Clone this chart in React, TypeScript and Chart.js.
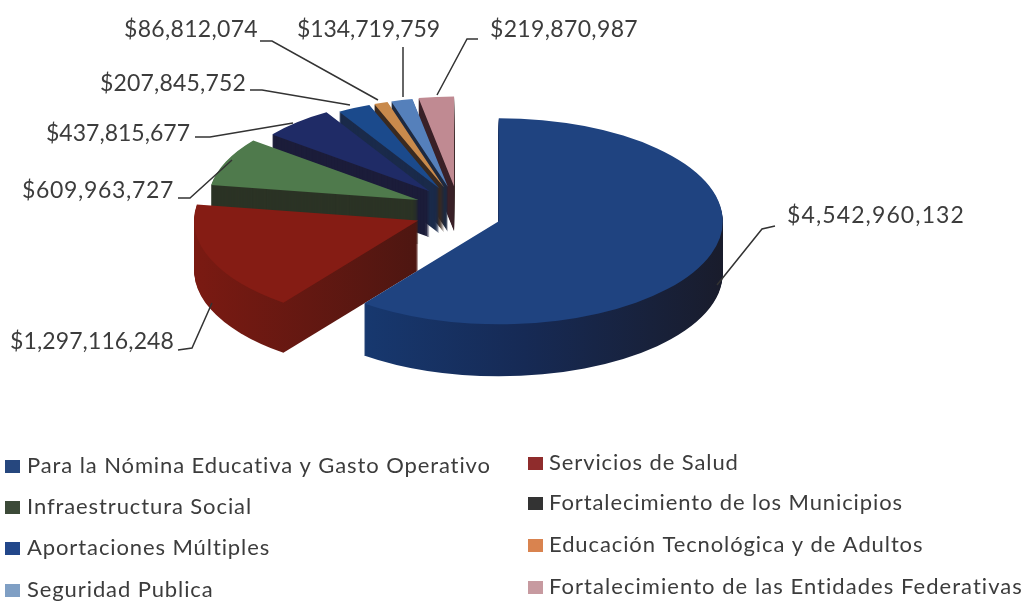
import React, { useEffect, useRef } from "react";
import { Chart, registerables } from "chart.js";

Chart.register(...registerables);

const categories = [
  "Para la Nómina Educativa y Gasto Operativo",
  "Servicios de Salud",
  "Infraestructura Social",
  "Fortalecimiento de los Municipios",
  "Aportaciones Múltiples",
  "Educación Tecnológica y de Adultos",
  "Seguridad Publica",
  "Fortalecimiento de las Entidades Federativas",
];
const values = [4542960132, 1297116248, 609963727, 437815677, 207845752, 86812074, 134719759, 219870987];
const topColors = ["#1f4380", "#851c14", "#4f7a4c", "#1f2b66", "#1b4a8c", "#c98a4c", "#5580bb", "#c08a92"];
const sideColors = ["#17233f", "#5c1712", "#2b3325", "#1c1d3a", "#1a2a4a", "#3a2a20", "#1e2a40", "#3a2028"];
const legendColors = ["#26477e", "#8f2c2c", "#3c4a38", "#333333", "#22478a", "#d9834f", "#7f9fc4", "#c79aa0"];

const SQUASH = 0.46;
const RADIUS = 224;
const EXPLODE = 43;
const FONT = "Lato, sans-serif";
const INK = "#3c3c3c";

// The reference has perspective: far slices look smaller and thinner, near ones sit lower.
const sliceRadius = [224, 224, 210, 200, 194, 194, 194, 195];
const sliceNudgeY = [6, 4, -1, -3, -3, -3, -3, -3];
const sliceDepth = [52, 50, 44, 46, 45, 45, 45, 45];

// Where each value label sits (text x, middle y, align, width on the page) and its leader polyline.
const labelSpots: [number, number, CanvasTextAlign, number][] = [
  [787, 216, "left", 178],
  [174, 342, "right", 164],
  [174, 191, "right", 152],
  [190, 134, "right", 144],
  [246, 84, "right", 146],
  [258, 30, "right", 134],
  [440, 30, "right", 143],
  [490, 30, "left", 148],
];
const leaders: [number, number][][] = [
  [[775, 226], [762, 229], [717, 285]],
  [[178, 350], [192, 348], [212, 303]],
  [[178, 198], [190, 198], [232, 160]],
  [[195, 137], [210, 137], [293, 123]],
  [[250, 90], [262, 90], [350, 105]],
  [[260, 41], [272, 41], [378, 100]],
  [[403, 47], [403, 97]],
  [[478, 39], [467, 39], [437, 95]],
];
const legendRows: [number, number, number, number][] = [
  [5, 27, 466, 0.9],
  [528, 549, 463, 0.9],
  [5, 27, 507, 0.9],
  [528, 549, 503, 0.9],
  [5, 27, 548, 0.9],
  [528, 549, 545, 0.9],
  [5, 27, 590, 0.9],
  [528, 549, 587, 1.05],
];

const pie3d = {
  id: "pie3d",
  afterDatasetsUpdate(chart: any) {
    // Pull every slice outward along its own mid-angle (an exploded pie).
    chart.getDatasetMeta(0).data.forEach((arc: any, i: number) => {
      const mid = (arc.startAngle + arc.endAngle) / 2;
      arc.x += Math.cos(mid) * EXPLODE;
      arc.y += Math.sin(mid) * EXPLODE + sliceNudgeY[i] / SQUASH;
      arc.outerRadius = sliceRadius[i];
    });
  },
  beforeDatasetsDraw(chart: any) {
    const ctx = chart.ctx;
    const arcs = chart.getDatasetMeta(0).data;
    const { left, right, top, bottom } = chart.chartArea;
    const cx = (left + right) / 2;
    const cy = (top + bottom) / 2;
    ctx.save();
    ctx.translate(cx, cy);
    ctx.scale(1, SQUASH);
    ctx.translate(-cx, -cy);
    const blueSide = ctx.createLinearGradient(363, 0, 722, 0);
    blueSide.addColorStop(0, "#17386f");
    blueSide.addColorStop(0.45, "#162a55");
    blueSide.addColorStop(1, "#191c2c");
    const redSide = ctx.createLinearGradient(197, 0, 420, 0);
    redSide.addColorStop(0, "#7a1a12");
    redSide.addColorStop(1, "#4d1611");
    for (let i = arcs.length - 1; i >= 0; i--) {
      const a = arcs[i];
      for (let dep = sliceDepth[i]; dep >= 1; dep--) {
        const oy = a.y + dep / SQUASH;
        ctx.beginPath();
        ctx.moveTo(a.x, oy);
        ctx.arc(a.x, oy, a.outerRadius, a.startAngle, a.endAngle);
        ctx.closePath();
        ctx.fillStyle = i === 0 ? blueSide : i === 1 ? redSide : sideColors[i];
        ctx.fill();
      }
    }
  },
  afterDatasetsDraw(chart: any) {
    const ctx = chart.ctx;
    ctx.restore();
    ctx.save();
    ctx.lineWidth = 1.5;
    ctx.strokeStyle = "#333333";
    leaders.forEach((pts) => {
      ctx.beginPath();
      pts.forEach(([x, y], i) => (i ? ctx.lineTo(x, y) : ctx.moveTo(x, y)));
      ctx.stroke();
    });
    ctx.fillStyle = INK;
    ctx.textBaseline = "middle";
    ctx.font = `23px ${FONT}`;
    values.forEach((v, i) => {
      const [x, y, align, width] = labelSpots[i];
      const text = "$" + v.toLocaleString("en-US");
      ctx.letterSpacing = "0px";
      const base = ctx.measureText(text).width;
      ctx.letterSpacing = `${(width - base) / text.length}px`;
      ctx.textAlign = align;
      ctx.fillText(text, x, y);
    });
    ctx.textAlign = "left";
    categories.forEach((c, i) => {
      const [sx, tx, y, spacing] = legendRows[i];
      ctx.fillStyle = legendColors[i];
      ctx.fillRect(sx, y - 6, 15, 13);
      ctx.fillStyle = INK;
      ctx.font = `22px ${FONT}`;
      ctx.letterSpacing = `${spacing}px`;
      ctx.fillText(c, tx, y);
    });
    ctx.restore();
  },
};

export default function App() {
  const ref = useRef<HTMLCanvasElement | null>(null);
  useEffect(() => {
    if (!ref.current) return;
    const chart = new Chart(ref.current, {
      type: "pie",
      data: {
        labels: categories,
        datasets: [
          {
            data: values,
            backgroundColor: topColors,
            borderWidth: 0,
            clip: false,
          } as any,
        ],
      },
      options: {
        responsive: false,
        animation: false,
        devicePixelRatio: 1,
        radius: RADIUS,
        layout: { padding: { left: 0, top: 0, right: 110, bottom: 184 } },
        plugins: { legend: { display: false }, tooltip: { enabled: false } },
        events: [],
      } as any,
      plugins: [pie3d],
    });
    return () => chart.destroy();
  }, []);
  return (
    <div style={{ position: "absolute", left: 0, top: 0, width: 1026, height: 602, background: "#ffffff", overflow: "hidden" }}>
      <canvas ref={ref} width={1026} height={602} style={{ display: "block" }} />
    </div>
  );
}
